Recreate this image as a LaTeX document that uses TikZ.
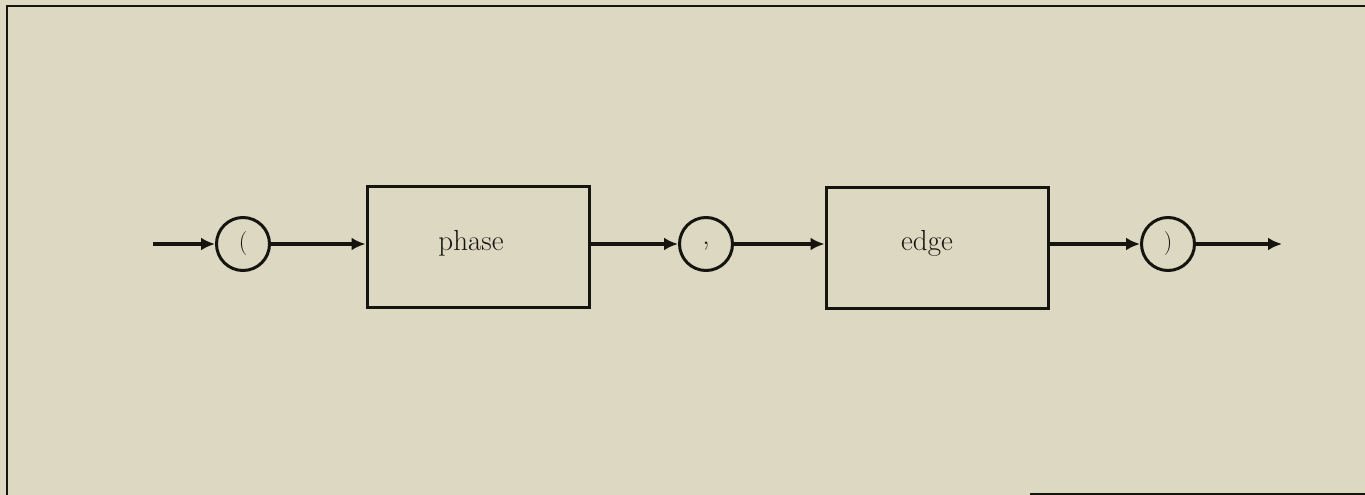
\documentclass[tikz,border=0pt]{standalone}
\usetikzlibrary{arrows.meta}
\definecolor{paper}{HTML}{DCD8C2}
\definecolor{ink}{HTML}{15140F}
\begin{document}
\begin{tikzpicture}[x=1pt,y=-1pt,
  line width=3.2pt, draw=ink,
  term/.style={circle,draw=ink,line width=3pt,minimum size=53pt,inner sep=0pt,text=ink,font=\fontsize{24}{28}\selectfont},
  nonterm/.style={rectangle,draw=ink,line width=3pt,minimum width=222pt,minimum height=121pt,inner sep=0pt},
  lab/.style={text=ink,font=\fontsize{29}{34}\selectfont,anchor=base},
  flow/.style={draw=ink,line width=3.2pt,-{Latex[length=14pt,width=13pt]}}]
\fill[paper] (0,0) rectangle (1365,495);
\useasboundingbox (0,0) rectangle (1365,495);
\draw[ink,line width=2.8pt] (7,495) -- (7,6) -- (1365,6);
\draw[ink,line width=2.8pt] (1030,494) -- (1365,494);
\coordinate (start) at (153,244);
\coordinate (stop) at (1282,244);
\node[term] (lp) at (243,244) {\raisebox{-4pt}{(}};
\node[nonterm] (phase) at (478,247) {};
\node[lab] (ptext) at (471,250) {phase};
\node[term] (comma) at (706,244) {\raisebox{-6pt}{\fontsize{30}{34}\selectfont,}};
\node[nonterm] (edge) at (937,248) {};
\node[lab] (etext) at (927,250) {edge};
\node[term] (rp) at (1168,244) {\raisebox{-4pt}{)}};
\draw[flow] (start) -- (lp.west);
\draw[flow] (lp.east) -- (phase.west |- lp.east);
\draw[flow] (phase.east |- comma.west) -- (comma.west);
\draw[flow] (comma.east) -- (edge.west |- comma.east);
\draw[flow] (edge.east |- rp.west) -- (rp.west);
\draw[flow] (rp.east) -- (stop);
\end{tikzpicture}
\end{document}
